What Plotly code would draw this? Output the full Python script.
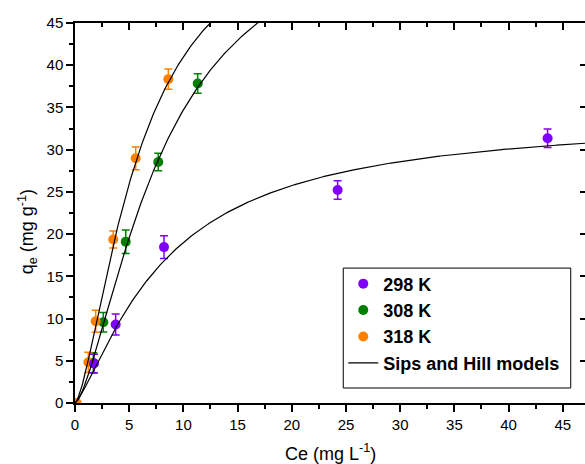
import numpy as np
import plotly.graph_objects as go

# ---- data ----
x_298 = [1.75, 3.75, 8.21, 24.23, 43.6]
y_298 = [4.68, 9.29, 18.46, 25.22, 31.35]
e_298 = [1.1, 1.25, 1.35, 1.1, 1.1]

x_308 = [1.69, 2.61, 4.68, 7.68, 11.32]
y_308 = [4.75, 9.56, 19.1, 28.54, 37.84]
e_308 = [1.2, 1.15, 1.4, 1.05, 1.15]

x_318 = [0.15, 1.23, 1.91, 3.53, 5.6, 8.61]
y_318 = [0.0, 4.82, 9.68, 19.37, 28.98, 38.35]
e_318 = [0.0, 1.2, 1.3, 1.0, 1.35, 1.2]

# Sips / Hill model parameters (qm, K, n) per temperature
sips_298 = [34.0, 0.12, 1.3]
sips_308 = [60.0, 0.1235, 1.5]
sips_318 = [60.0, 0.167, 1.5]

labels = ["298 K", "308 K", "318 K"]
colors = ["#7F00FF", "#008000", "#FF8000"]

x_ticks = [0, 5, 10, 15, 20, 25, 30, 35, 40, 45]
y_ticks = [0, 5, 10, 15, 20, 25, 30, 35, 40, 45]

X_MAX = 47.05
Y_MAX = 45


def sips(c, p):
    qm, k, n = p
    kc = np.power(k * c, n)
    return qm * kc / (1.0 + kc)


c_grid = np.linspace(0, X_MAX, 400)

fig = go.Figure()

series = [
    (x_298, y_298, e_298, labels[0], colors[0], 1),
    (x_308, y_308, e_308, labels[1], colors[1], 2),
    (x_318, y_318, e_318, labels[2], colors[2], 3),
]
# draw order: green, orange, purple (purple on top as in the reference)
for idx in [1, 2, 0]:
    xs, ys, es, name, col, rank = series[idx]
    fig.add_trace(go.Scatter(
        x=xs, y=ys, mode="markers", name=name, legendrank=rank,
        marker=dict(color=col, size=10, line=dict(width=0)),
        error_y=dict(type="data", array=es, visible=True, color=col,
                     thickness=1.5, width=4),
    ))

for i, p in enumerate([sips_298, sips_308, sips_318]):
    fig.add_trace(go.Scatter(
        x=c_grid, y=sips(c_grid, p), mode="lines",
        name="Sips and Hill models", legendrank=4,
        showlegend=(i == 0),
        line=dict(color="black", width=1.2),
        hoverinfo="skip",
    ))

# dummy trace so the mirrored (top/right) axes get drawn
fig.add_trace(go.Scatter(x=[None], y=[None], xaxis="x2", yaxis="y2",
                         showlegend=False, hoverinfo="skip"))

font_family = "Liberation Sans, Arial, sans-serif"
axis_common = dict(showgrid=False, zeroline=False, showline=True,
                   linecolor="black", linewidth=1.5)

fig.update_layout(
    width=585, height=464,
    margin=dict(l=75, r=0, t=23, b=61),
    paper_bgcolor="white", plot_bgcolor="white",
    font=dict(family=font_family, color="black"),
    xaxis=dict(range=[0, X_MAX], tickvals=x_ticks, ticks="outside",
               ticklen=7, tickwidth=1.5, tickcolor="black",
               tickfont=dict(size=15, family=font_family, color="black"),
               minor=dict(ticks="outside", ticklen=4, tickwidth=1.5,
                          tickcolor="black", dtick=2.5, tick0=0),
               **axis_common),
    yaxis=dict(range=[0, Y_MAX], tickvals=y_ticks, ticks="outside",
               ticklen=7, tickwidth=1.5, tickcolor="black",
               tickfont=dict(size=15, family=font_family, color="black"),
               minor=dict(ticks="outside", ticklen=4, tickwidth=1.5,
                          tickcolor="black", dtick=2.5, tick0=0),
               **axis_common),
    xaxis2=dict(overlaying="x", side="top", range=[0, X_MAX],
                tickvals=x_ticks, ticks="inside", ticklen=7, tickwidth=1.5,
                tickcolor="black", showticklabels=False,
                minor=dict(ticks="inside", ticklen=4, tickwidth=1.5,
                           tickcolor="black", dtick=2.5, tick0=0),
                **axis_common),
    yaxis2=dict(overlaying="y", side="right", range=[0, Y_MAX],
                tickvals=y_ticks, ticks="inside", ticklen=5, tickwidth=1.5,
                tickcolor="black", showticklabels=False,
                showgrid=False, zeroline=False, showline=False),
    legend=dict(x=0.526, xanchor="left", y=0.362, yanchor="top",
                bgcolor="rgba(0,0,0,0)", borderwidth=0,
                font=dict(size=18, family=font_family, color="black",
                          weight="bold"),
                itemwidth=30, tracegroupgap=0),
    shapes=[dict(type="rect", xref="paper", yref="paper",
                 x0=0.526, x1=0.972, y0=0.0395, y1=0.355,
                 line=dict(color="black", width=1), fillcolor="rgba(0,0,0,0)")],
    annotations=[
        dict(text="Ce (mg L<sup>-1</sup>)", xref="paper", yref="paper",
             x=0.5, y=-0.131, xanchor="center", yanchor="middle",
             showarrow=False, font=dict(size=18, family=font_family, color="black")),
        dict(text="q<sub>e</sub> (mg g<sup>-1</sup>)", xref="paper", yref="paper",
             x=-0.093, y=0.451, xanchor="center", yanchor="middle",
             textangle=-90, showarrow=False,
             font=dict(size=18, family=font_family, color="black")),
    ],
)

fig.write_html(
    "out.html",
    config={"displayModeBar": False},
    post_script="document.body.style.margin='0';document.body.style.overflow='hidden';",
)
